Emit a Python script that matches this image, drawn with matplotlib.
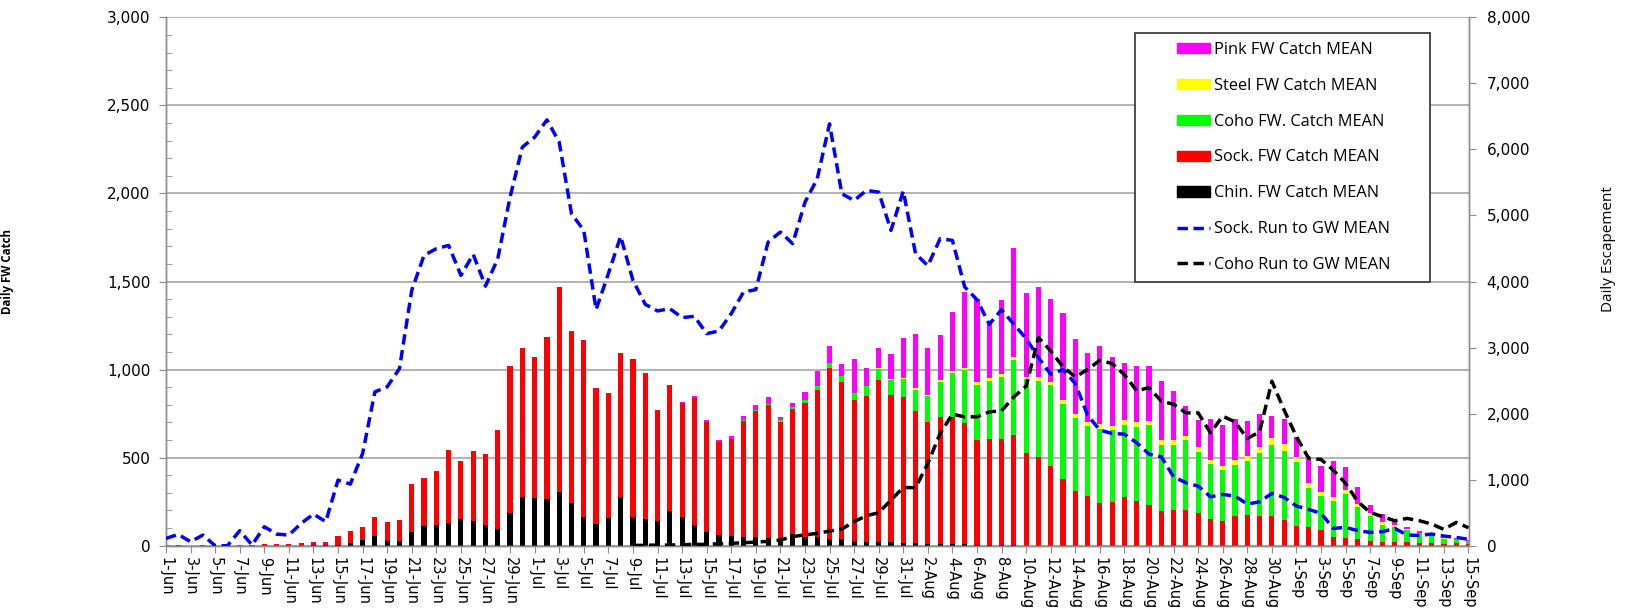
import numpy as np
import pandas as pd
import matplotlib
matplotlib.use("Agg")
import matplotlib.pyplot as plt
from matplotlib.patches import Patch, Rectangle
from matplotlib.lines import Line2D
from matplotlib.ticker import MultipleLocator, FuncFormatter

plt.rcParams['font.family'] = ['Open Sans', 'DejaVu Sans']

# ---------------- data ----------------
dates = pd.date_range("2023-06-01", "2023-09-15", freq="D")
day_labels = [f"{d.day}-{d:%b}" for d in dates]

chin = [0, 0, 0, 0, 0, 0, 0, 0, 0, 0, 0, 0, 5, 2, 4, 17, 34, 53, 26, 26,
        77, 111, 117, 130, 151, 140, 119, 95, 187, 278, 272, 263, 304, 240, 164, 123,
        159, 278, 164, 149, 140, 197, 161, 117, 76, 60, 57, 51, 51, 42, 36, 66, 50,
        47, 40, 38, 28, 23, 19, 21, 17, 13, 9, 9, 8, 8, 4, 3, 3, 2,
        0, 0, 0, 0, 0, 0, 0, 0, 0, 0, 0, 0, 0, 0, 0, 0, 0, 0, 0, 0, 0, 0, 0, 0, 0,
        0, 0, 0, 0, 0, 0, 0, 0, 0, 0, 0, 0]
sock = [3, 3, 0, 3, 0, 0, 3, 2, 11, 11, 11, 13, 18, 21, 51, 66, 72, 110, 108, 120,
        271, 271, 306, 416, 331, 400, 399, 561, 834, 847, 800, 924, 1163, 981, 1004, 773,
        710, 816, 898, 832, 631, 718, 652, 724, 625, 526, 550, 658, 714, 754, 669, 711, 761,
        839, 971, 894, 802, 829, 920, 835, 828, 752, 694, 722, 723, 689, 595, 605, 605, 629,
        527, 503, 454, 376, 312, 282, 244, 249, 278, 255, 229, 198, 202, 204, 185, 149, 140,
        170, 174, 170, 168, 146, 112, 104, 91, 51, 45, 40, 28, 21, 23, 19, 13, 13, 11, 13, 8]
coho = [0] * 45 + [2, 0, 4, 8, 8, 8, 10, 17,
        23, 28, 34, 36, 53, 64, 87, 102, 121, 147, 200, 249, 299, 316, 327, 348, 421,
        420, 431, 457, 427, 414, 399, 416, 406, 410, 420, 455, 376, 370, 395, 348, 314, 287,
        289, 308, 355, 404, 391, 365, 225, 191, 202, 251, 178, 142, 96, 81, 68, 57, 53, 28, 23, 17]
steel = [0] * 58 + [6, 3, 3, 8, 6, 11, 11, 13, 13, 17, 17, 19,
         11, 25, 19, 25, 21, 21, 30, 26, 25, 26, 23, 25, 26, 26, 26, 23, 25,
         26, 28, 34, 38, 38, 25, 25, 21, 25, 23, 19, 17, 19, 13, 8, 2, 0, 2, 2, 0]
pink = [0] * 42 + [4, 9, 11, 11, 13, 22, 28, 38, 19, 23, 43,
        83, 93, 64, 193, 102, 115, 142, 228, 310, 268, 257, 338, 431, 474, 304, 420, 622,
        478, 507, 471, 493, 429, 393, 442, 393, 325, 318, 316, 335, 278, 166, 153, 232, 231,
        232, 197, 187, 125, 144, 117, 138, 149, 202, 125, 98, 43, 42, 25, 13, 9, 4, 6, 4, 7]

sock_run = [110, 171, 60, 161, 0, 0, 227, 10, 287, 176, 161, 338, 479, 363, 993, 933,
            1396, 2329, 2405, 2682, 3867, 4396, 4497, 4547, 4093, 4411, 3930,
            4345, 5278, 6034, 6185, 6447, 6110, 5026, 4774, 3574, 4118, 4683, 4018, 3655,
            3554, 3589, 3453, 3473, 3211, 3251, 3514, 3841, 3877, 4597, 4749, 4572, 5200,
            5555, 6387, 5328, 5227, 5379, 5353, 4774, 5369, 4421, 4239, 4648, 4623, 3917,
            3725, 3352, 3574, 3352, 3136, 2848, 2596, 2667, 2455, 1976, 1749, 1699, 1689,
            1558, 1386, 1346, 1043, 953, 902, 741, 776, 751, 630, 665, 791, 731, 600, 549,
            489, 262, 277, 227, 202, 212, 262, 161, 156, 176, 146, 126, 96]
coho_run = [np.nan] * 38 + [5, 5, 10, 10, 15, 20, 20, 30, 35, 45, 55, 65, 86, 136,
            165, 186, 222, 252, 363, 454, 499, 691, 882, 877, 1245, 1699, 1991, 1951, 1951,
            2026, 2042, 2253, 2415, 3151, 2949, 2707, 2556, 2667, 2808, 2757, 2590,
            2344, 2394, 2188, 2142, 2011, 2011, 1709, 1961, 1875, 1623, 1724, 2490, 2052,
            1648, 1321, 1306, 1144, 943, 665, 504, 439, 378, 413, 378, 328, 247, 353, 272]

bar_series = [("Chin. FW Catch MEAN", chin, "#000000"),
              ("Sock. FW Catch MEAN", sock, "#FF0000"),
              ("Coho FW. Catch MEAN", coho, "#00FF00"),
              ("Steel FW Catch MEAN", steel, "#FFFF00"),
              ("Pink FW Catch MEAN", pink, "#FF00FF")]

# ---------------- figure ----------------
W, H = 1625, 608
fig = plt.figure(figsize=(W / 100, H / 100), dpi=100)
L, R, T, B = 166, 1468.5, 17.3, 545.7
ax = fig.add_axes([L / W, 1 - B / H, (R - L) / W, (B - T) / H])
ax2 = ax.twinx()

x = np.arange(len(dates))
bottom = np.zeros(len(dates))
for name, vals, col in bar_series:
    v = np.array(vals, dtype=float)
    ax.bar(x, v, width=0.42, bottom=bottom, color=col, linewidth=0, zorder=2)
    bottom += v

dash = (0, (3, 1.6))
ax2.plot(x, sock_run, color="#0000FF", lw=2.5, linestyle=dash, zorder=3)
ax2.plot(x, coho_run, color="#000000", lw=2.5, linestyle=dash, zorder=3)

gray = "#8C8C8C"
tick_font = "DejaVu Sans"
ax.set_xlim(0, len(dates) - 1)
ax.set_ylim(0, 3000)
ax2.set_ylim(0, 8000)
ax.set_yticks(np.arange(0, 3001, 500))
ax.yaxis.set_minor_locator(MultipleLocator(100))
ax2.set_yticks(np.arange(0, 8001, 1000))
fmt = FuncFormatter(lambda v, p: f"{int(v):,}")
ax.yaxis.set_major_formatter(fmt)
ax2.yaxis.set_major_formatter(fmt)
ax.grid(axis="y", which="major", color="#A6A6A6", lw=1.2, zorder=0)
ax.set_axisbelow(True)

ax.set_xticks(x[::2])
ax.set_xticklabels(day_labels[::2], rotation=-90, fontsize=10.5, family=tick_font)
ax.tick_params(axis="x", direction="out", length=5, color=gray, pad=3)
ax.tick_params(axis="y", which="major", direction="out", length=5, color=gray,
               labelsize=11, pad=6)
ax.tick_params(axis="y", which="minor", direction="in", length=4, color=gray)
ax2.tick_params(axis="y", which="major", direction="out", length=5, color=gray,
                labelsize=11, pad=8)
for lab in ax.get_yticklabels() + ax2.get_yticklabels():
    lab.set_family(tick_font)

for a in (ax, ax2):
    a.spines["top"].set_visible(False)
    for s in ("left", "right", "bottom"):
        a.spines[s].set_color(gray)
        a.spines[s].set_linewidth(1.0)

fig.text(7.5 / W, 1 - 271 / H, "Daily FW Catch", rotation=90, fontsize=8.3,
         fontweight="bold", ha="center", va="center")
fig.text(1609 / W, 1 - 249 / H, "Daily Escapement", rotation=90, fontsize=11,
         ha="center", va="center")

# legend box
fig.patches.append(Rectangle((1135 / W, 1 - 282 / H), (1430 - 1135) / W, (282 - 33) / H,
                             transform=fig.transFigure, facecolor="white",
                             edgecolor="#404040", lw=1.3, zorder=1))
handles = [Patch(color="#FF00FF"), Patch(color="#FFFF00"), Patch(color="#00FF00"),
           Patch(color="#FF0000"), Patch(color="#000000"),
           Line2D([], [], color="#0000FF", lw=2.5, linestyle=dash),
           Line2D([], [], color="#000000", lw=2.5, linestyle=dash)]
labels = ["Pink FW Catch MEAN", "Steel FW Catch MEAN", "Coho FW. Catch MEAN",
          "Sock. FW Catch MEAN", "Chin. FW Catch MEAN", "Sock. Run to GW MEAN",
          "Coho Run to GW MEAN"]
fig.legend(handles, labels, loc="upper left", bbox_to_anchor=(1177 / W, 1 - 42 / H),
           bbox_transform=fig.transFigure, frameon=False, fontsize=11.8,
           handlelength=2.0, handleheight=0.6, handletextpad=0.25,
           labelspacing=1.21, borderpad=0, borderaxespad=0)

fig.savefig("out.png", dpi=100)
